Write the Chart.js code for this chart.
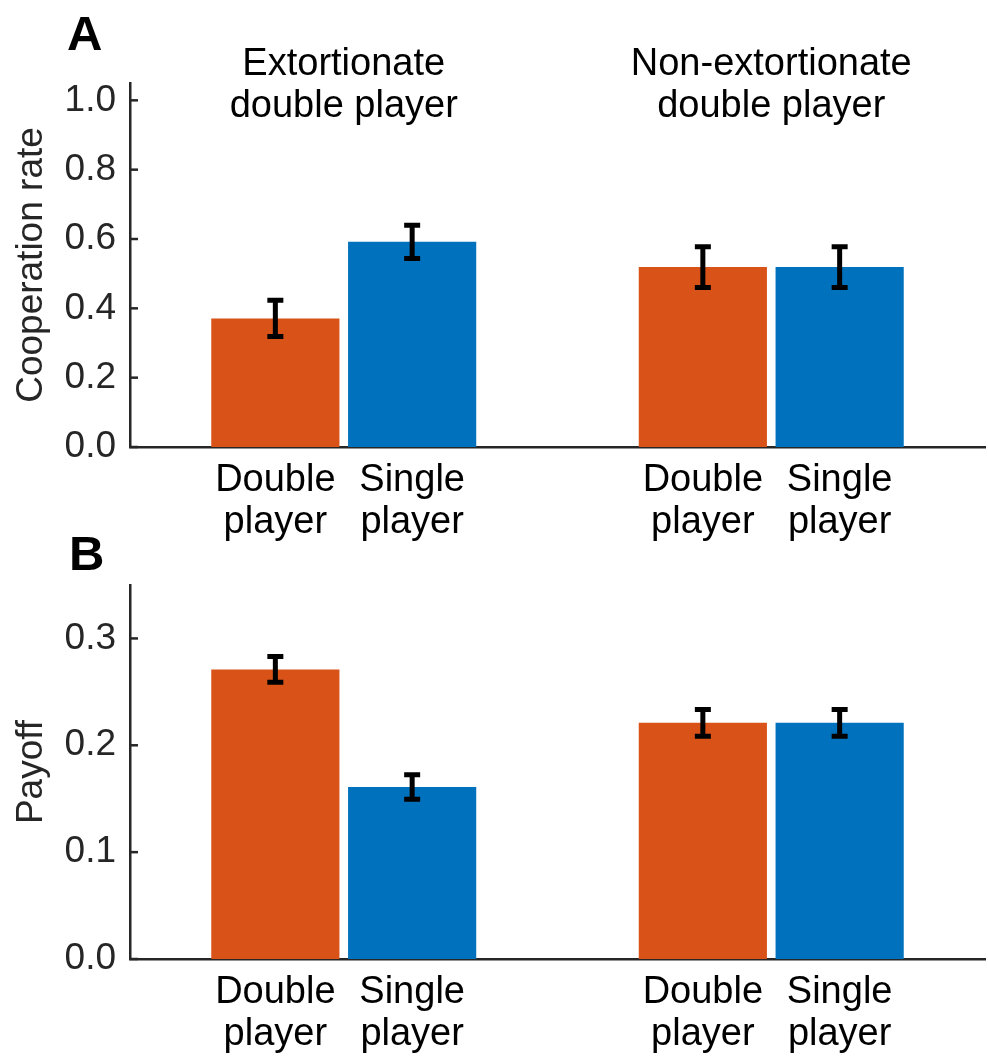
<!DOCTYPE html>
<html>
<head>
<meta charset="utf-8">
<script src="https://cdn.jsdelivr.net/npm/chart.js@4.4.0/dist/chart.umd.min.js"></script>
<style>
  html, body { margin: 0; padding: 0; background: #fff; }
  body { position: relative; width: 988px; height: 1059px; overflow: hidden; }
  canvas { display: block; position: absolute; left: 0; }
  #chartA { top: 0; }
  #chartB { top: 520px; }
</style>
</head>
<body>
<canvas id="chartA" width="988" height="560"></canvas>
<canvas id="chartB" width="988" height="539"></canvas>
<script>
// Datos
const grupos = ['Extortionate double player', 'Non-extortionate double player'];
const titulosGrupo = [['Extortionate', 'double player'], ['Non-extortionate', 'double player']];
const etiquetasBarra = [['Double', 'player'], ['Single', 'player']];

const coopDouble = [0.371, 0.519];
const coopSingle = [0.592, 0.519];
const coopDoubleErr = [0.052, 0.059];
const coopSingleErr = [0.048, 0.059];

const payDouble = [0.271, 0.221];
const paySingle = [0.161, 0.221];
const payDoubleErr = [0.012, 0.0125];
const paySingleErr = [0.0115, 0.0125];

const ticksA = [0, 0.2, 0.4, 0.6, 0.8, 1.0];
const ticksB = [0, 0.1, 0.2, 0.3];

const naranja = '#D95319';
const azul = '#0072BD';
const gris = '#262626';
const FUENTE = 'Liberation Sans';

Chart.defaults.font.family = FUENTE;
Chart.defaults.font.size = 37;
Chart.defaults.color = gris;

// Plugin: ticks hacia dentro, barras de error y textos
const panelPlugin = {
  id: 'panel',
  afterDatasetsDraw(chart, args, opts) {
    const ctx = chart.ctx;
    const y = chart.scales.y;
    const area = chart.chartArea;
    ctx.save();
    // ticks hacia dentro
    ctx.strokeStyle = gris;
    ctx.lineWidth = 2.5;
    y.ticks.forEach(t => {
      const py = y.getPixelForValue(t.value);
      ctx.beginPath();
      ctx.moveTo(area.left, py);
      ctx.lineTo(area.left + 8, py);
      ctx.stroke();
    });
    // barras de error
    ctx.strokeStyle = '#000';
    ctx.lineWidth = 5;
    ctx.lineCap = 'butt';
    chart.data.datasets.forEach((ds, i) => {
      const meta = chart.getDatasetMeta(i);
      meta.data.forEach((el, j) => {
        const top = y.getPixelForValue(ds.data[j] + ds.err[j]);
        const bot = y.getPixelForValue(ds.data[j] - ds.err[j]);
        ctx.beginPath();
        ctx.moveTo(el.x, top); ctx.lineTo(el.x, bot);
        ctx.moveTo(el.x - 8, top); ctx.lineTo(el.x + 8, top);
        ctx.moveTo(el.x - 8, bot); ctx.lineTo(el.x + 8, bot);
        ctx.stroke();
      });
      // etiquetas bajo cada barra
      ctx.fillStyle = '#000';
      ctx.font = '38px "' + FUENTE + '"';
      ctx.textAlign = 'center';
      ctx.textBaseline = 'alphabetic';
      meta.data.forEach(el => {
        ctx.fillText(etiquetasBarra[i][0], el.x, area.bottom + 44);
        ctx.fillText(etiquetasBarra[i][1], el.x, area.bottom + 86);
      });
    });
    // titulos de grupo
    if (opts.titulos) {
      const x = chart.scales.x;
      ctx.fillStyle = '#000';
      opts.titulos.forEach((t, j) => {
        const px = x.getPixelForValue(j);
        ctx.fillText(t[0], px, area.top - 8);
        ctx.fillText(t[1], px, area.top + 34);
      });
    }
    // letra del panel
    ctx.font = 'bold 49px "' + FUENTE + '"';
    ctx.textAlign = 'left';
    ctx.fillStyle = '#000';
    ctx.fillText(opts.letra, opts.letraX, opts.letraY);
    ctx.restore();
  }
};

function crearPanel(id, dDouble, dSingle, eDouble, eSingle, maxY, tickVals, tituloY, pad, extra) {
  return new Chart(document.getElementById(id), {
    type: 'bar',
    data: {
      labels: grupos,
      datasets: [
        { label: 'Double player', data: dDouble, err: eDouble, backgroundColor: naranja },
        { label: 'Single player', data: dSingle, err: eSingle, backgroundColor: azul }
      ]
    },
    options: {
      responsive: false,
      animation: false,
      layout: { autoPadding: false, padding: pad },
      categoryPercentage: 0.64,
      barPercentage: 0.937,
      plugins: {
        legend: { display: false },
        tooltip: { enabled: false },
        panel: extra
      },
      scales: {
        x: {
          grid: { display: false, drawTicks: false },
          border: { display: true, color: gris, width: 2.5 },
          ticks: { display: false },
          afterFit: s => { s.height = 0; }
        },
        y: {
          min: 0,
          max: maxY,
          grid: { display: false, drawTicks: false },
          border: { display: true, color: gris, width: 2.5 },
          ticks: {
            padding: 14,
            color: gris,
            callback: v => v.toFixed(1)
          },
          afterBuildTicks: s => { s.ticks = tickVals.map(v => ({ value: v })); },
          afterFit: s => { s.width = 130; },
          title: {
            display: true,
            text: tituloY,
            color: gris,
            font: { size: 37 },
            padding: { top: 10, bottom: 0 }
          }
        }
      }
    },
    plugins: [panelPlugin]
  });
}

crearPanel('chartA', coopDouble, coopSingle, coopDoubleErr, coopSingleErr, 1.05, ticksA,
  'Cooperation rate', { top: 83, bottom: 113, left: 0, right: 3 },
  { titulos: titulosGrupo, letra: 'A', letraX: 67, letraY: 50 });

crearPanel('chartB', payDouble, paySingle, payDoubleErr, paySingleErr, 0.35, ticksB,
  'Payoff', { top: 65, bottom: 100, left: 0, right: 3 },
  { letra: 'B', letraX: 69, letraY: 50 });
</script>
</body>
</html>
